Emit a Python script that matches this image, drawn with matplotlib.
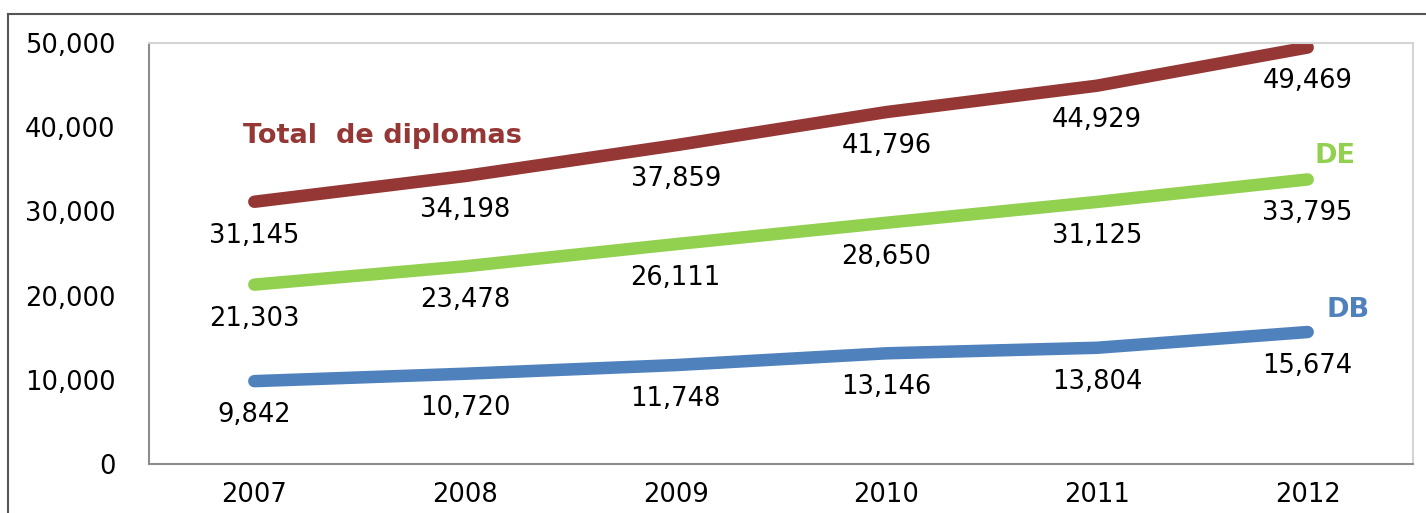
import matplotlib
matplotlib.use("Agg")
import matplotlib.pyplot as plt
from matplotlib.lines import Line2D

years = ["2007", "2008", "2009", "2010", "2011", "2012"]
total = [31145, 34198, 37859, 41796, 44929, 49469]
de = [21303, 23478, 26111, 28650, 31125, 33795]
db = [9842, 10720, 11748, 13146, 13804, 15674]
yticks = [0, 10000, 20000, 30000, 40000, 50000]

W, H = 1426, 513
fig = plt.figure(figsize=(W / 100, H / 100), dpi=100)
ax = fig.add_axes([149 / W, 1 - 464 / H, (1413 - 149) / W, (464 - 43) / H])

x = list(range(len(years)))
series = [
    (total, "#953735"),
    (de, "#92D050"),
    (db, "#4F81BD"),
]
for vals, col in series:
    ax.plot(x, vals, color=col, lw=9, solid_capstyle="round", solid_joinstyle="round")
    for xi, v in zip(x, vals):
        ax.annotate(f"{v:,}", (xi, v), xytext=(0, -24.5), textcoords="offset points",
                    ha="center", va="center", fontsize=18.5, color="black")

ax.set_xlim(-0.5, len(years) - 0.5)
ax.set_ylim(0, 50000)
ax.set_xticks(x)
ax.set_xticklabels(years, fontsize=18.5)
ax.set_yticks(yticks)
ax.set_yticklabels([f"{t:,}" for t in yticks], fontsize=18.5)
ax.tick_params(axis="both", length=0)
ax.tick_params(axis="y", pad=24)
ax.tick_params(axis="x", pad=13)
for s in ["left", "bottom"]:
    ax.spines[s].set_color("#8c8c8c")
    ax.spines[s].set_linewidth(1.5)
for s in ["top", "right"]:
    ax.spines[s].set_color("#d4d4d4")
    ax.spines[s].set_linewidth(1.5)

# series name labels
ax.text(-0.055, 38900, "Total  de diplomas", color="#953735", fontsize=19.5, fontweight="bold",
        ha="left", va="center")
ax.text(5.034, 36600, "DE", color="#92D050", fontsize=19.5, fontweight="bold", ha="left", va="center")
ax.text(5.09, 18300, "DB", color="#4F81BD", fontsize=19.5, fontweight="bold", ha="left", va="center")

# outer frame (left and top edges)
fig.add_artist(Line2D([8 / W, 8 / W], [0, 1 - 14 / H], transform=fig.transFigure,
                      color="#555555", lw=1.5))
fig.add_artist(Line2D([8 / W, 1], [1 - 14 / H, 1 - 14 / H], transform=fig.transFigure,
                      color="#555555", lw=1.5))

fig.savefig("out.png", dpi=100, facecolor="white")
